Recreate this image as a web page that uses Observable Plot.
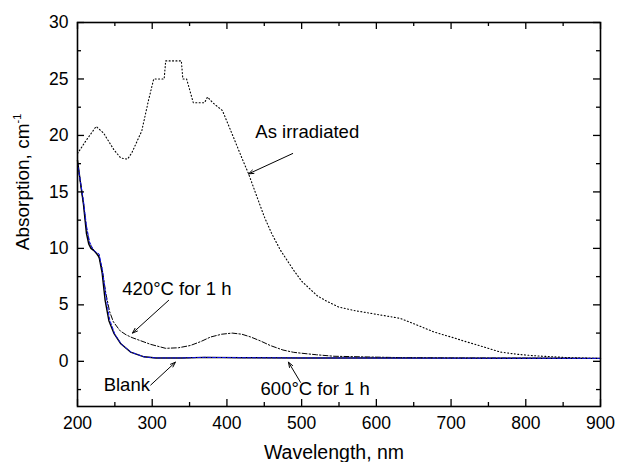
<!DOCTYPE html>
<html><head><meta charset="utf-8">
<script src="https://cdn.jsdelivr.net/npm/d3@7"></script>
<script src="https://cdn.jsdelivr.net/npm/@observablehq/plot@0.6"></script>
<style>
body{margin:0;background:#fff}
svg{font-family:"Liberation Sans",Arial,sans-serif}
</style>
</head><body><div id="chart"></div>
<script>
// ---- data ----
const irrWl  = [200,212,225,235,249,258,267,273,286,295,302,316,318,339,341,346,355,370,374,381,394,409,420,429,440,450,460,472,490,500,508,521,534,550,570,588,610,632,655,677,700,722,744,766,789,810,855,900];
const irrAbs = [18.4,19.6,20.8,20.2,18.7,18.0,17.9,18.5,20.4,23.1,25.0,25.0,26.6,26.6,25.0,25.0,22.9,22.9,23.4,22.9,22.2,19.8,18.0,16.6,14.6,12.8,11.3,9.8,8.0,7.1,6.6,5.8,5.3,4.8,4.5,4.3,4.05,3.8,3.2,2.6,2.15,1.7,1.27,0.82,0.62,0.5,0.33,0.25];

const t420Wl  = [200,204,208,212,216,220,224,228,233,238,243,248,257,265,273,298,318,335,351,365,378,393,407,420,432,445,458,475,489,498,520,543,600,632,700,800,900];
const t420Abs = [17.6,15.8,14.0,11.8,10.5,10.0,9.7,9.4,8.2,6.0,4.4,3.5,2.7,2.35,2.1,1.5,1.15,1.2,1.4,1.75,2.15,2.4,2.5,2.4,2.15,1.8,1.4,1.0,0.8,0.73,0.58,0.45,0.37,0.33,0.3,0.27,0.25];

const blankWl  = [200,204,208,212,215,218,222,226,229,233,237,242,249,258,271,289,305,340,370,420,500,600,700,800,900];
const blankAbs = [17.8,15.8,13.9,11.3,10.4,10.0,9.8,9.5,9.2,7.8,5.4,3.6,2.45,1.55,0.82,0.4,0.3,0.3,0.35,0.32,0.3,0.29,0.28,0.27,0.26];

const t600Wl  = [200,204,208,212,216,220,224,229,233,238,243,250,259,272,290,305,340,370,420,500,600,700,800,900];
const t600Abs = [17.6,15.9,14.2,12.0,10.6,10.0,9.7,9.5,8.2,5.8,3.7,2.4,1.5,0.8,0.38,0.3,0.3,0.35,0.32,0.3,0.29,0.28,0.27,0.26];

const xMajor = [200,300,400,500,600,700,800,900];
const xMinor = [250,350,450,550,650,750,850];
const yMajor = [0,5,10,15,20,25,30];
const yMinor = [-2.5,2.5,7.5,12.5,17.5,22.5,27.5];

const annText = ["As irradiated","420°C for 1 h","Blank","600°C for 1 h"];
const annX    = [438,260,235,445];
const annY    = [20.3,6.4,-2.1,-2.5];

const arrX1 = [488,322,298,498.5];
const arrY1 = [18.4,5.4,-2.1,-1.86];
const arrX2 = [429,273.6,331,482.4];
const arrY2 = [16.6,2.5,-0.08,-0.08];

const xTitle = "Wavelength, nm";
const yTitle = "Absorption, cm";
const yTitleSup = "-1";

// ---- tables ----
const toRows = (w, a) => w.map((d, i) => ({wl: d, abs: a[i]}));
const irr = toRows(irrWl, irrAbs);
const t420 = toRows(t420Wl, t420Abs);
const blank = toRows(blankWl, blankAbs);
const t600 = toRows(t600Wl, t600Abs);
const ann = annText.map((t, i) => ({t, x: annX[i], y: annY[i]}));
const arr = arrX1.map((d, i) => ({x1: d, y1: arrY1[i], x2: arrX2[i], y2: arrY2[i]}));

const W = 618, H = 462, ML = 77, MR = 18, MT = 22, MB = 56;
const FW = W - ML - MR, FH = H - MT - MB;
const tickFont = 17.5;
const major = 7, minor = 4;

const plot = Plot.plot({
  width: W, height: H,
  marginLeft: ML, marginRight: MR, marginTop: MT, marginBottom: MB,
  x: {domain: [200, 900]},
  y: {domain: [-4, 30]},
  style: {fontFamily: '"Liberation Sans", Arial, sans-serif', color: "#000", background: "#fff", overflow: "visible"},
  marks: [
    Plot.line(irr, {x: "wl", y: "abs", stroke: "#000", strokeWidth: 1.1, strokeDasharray: "1,2.4"}),
    Plot.line(t420, {x: "wl", y: "abs", stroke: "#000", strokeWidth: 1, strokeDasharray: "5,2,1.5,2"}),
    Plot.line(blank, {x: "wl", y: "abs", stroke: "#000", strokeWidth: 1.4}),
    Plot.line(t600, {x: "wl", y: "abs", stroke: "#1010f0", strokeWidth: 1, strokeDasharray: "3,2"}),
    // tick labels
    Plot.axisX(xMajor, {anchor: "bottom", tickSize: 0, tickPadding: 10, fontSize: tickFont, label: null}),
    Plot.axisY(yMajor, {anchor: "left", tickSize: 0, tickPadding: 9, fontSize: tickFont, label: null}),
    // inward ticks (bottom, top, left, right)
    Plot.tickX(xMajor, {x: d => d, insetTop: FH - major, stroke: "#000", strokeWidth: 1.3}),
    Plot.tickX(xMinor, {x: d => d, insetTop: FH - minor, stroke: "#000", strokeWidth: 1.3}),
    Plot.tickX(xMajor, {x: d => d, insetBottom: FH - major, stroke: "#000", strokeWidth: 1.3}),
    Plot.tickX(xMinor, {x: d => d, insetBottom: FH - minor, stroke: "#000", strokeWidth: 1.3}),
    Plot.tickY(yMajor, {y: d => d, insetRight: FW - major, stroke: "#000", strokeWidth: 1.3}),
    Plot.tickY(yMinor, {y: d => d, insetRight: FW - minor, stroke: "#000", strokeWidth: 1.3}),
    Plot.tickY(yMajor, {y: d => d, insetLeft: FW - major, stroke: "#000", strokeWidth: 1.3}),
    Plot.tickY(yMinor, {y: d => d, insetLeft: FW - minor, stroke: "#000", strokeWidth: 1.3}),
    Plot.frame({stroke: "#000", strokeWidth: 1.6}),
    Plot.arrow(arr, {x1: "x1", y1: "y1", x2: "x2", y2: "y2", stroke: "#000", strokeWidth: 1, headLength: 8, headAngle: 40}),
    Plot.text(ann, {x: "x", y: "y", text: "t", textAnchor: "start", fontSize: 18.5, fill: "#000"})
  ]
});

const svg = d3.select(plot);
svg.append("text")
  .attr("x", 334).attr("y", 459)
  .attr("text-anchor", "middle")
  .attr("font-size", 19.5)
  .attr("fill", "#000")
  .text(xTitle);
const yt = svg.append("text")
  .attr("transform", "translate(29,182) rotate(-90)")
  .attr("text-anchor", "middle")
  .attr("font-size", 19)
  .attr("fill", "#000");
yt.append("tspan").text(yTitle);
yt.append("tspan").attr("font-size", 11).attr("dy", -8).text(yTitleSup);

document.getElementById("chart").appendChild(plot);
</script>
</body></html>
